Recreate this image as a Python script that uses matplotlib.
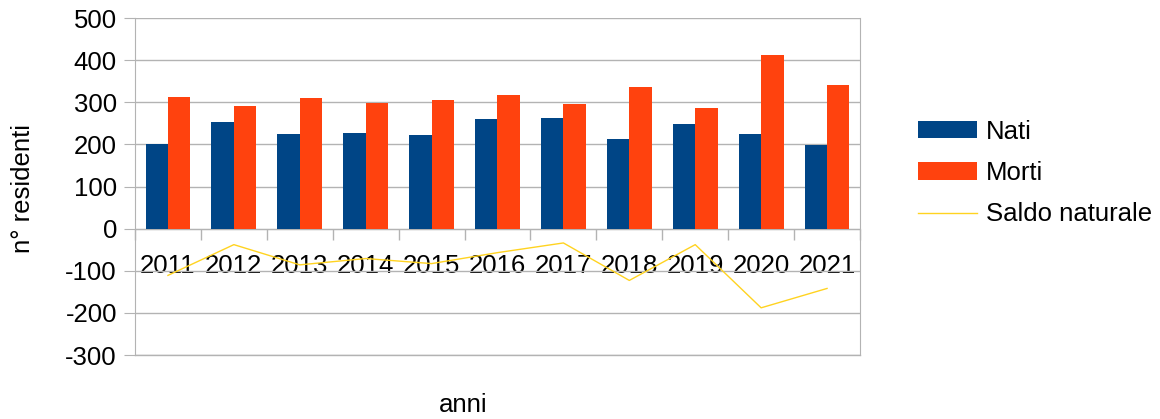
import matplotlib.pyplot as plt
import numpy as np

plt.rcParams['font.family'] = ['Liberation Sans', 'DejaVu Sans']

# data
anni = ['2011', '2012', '2013', '2014', '2015', '2016', '2017', '2018', '2019', '2020', '2021']
nati = [201, 253, 224, 227, 222, 260, 262, 213, 248, 224, 199]
morti = [312, 291, 310, 298, 305, 317, 296, 336, 286, 412, 341]
saldo = [-111, -38, -86, -71, -83, -57, -34, -123, -38, -188, -142]
yticks = [-300, -200, -100, 0, 100, 200, 300, 400, 500]

grey = '#b3b3b3'
fs = 18.5

fig = plt.figure(figsize=(11.6, 4.19), dpi=100)
ax = fig.add_axes([135 / 1160, 1 - 355 / 419, (860 - 135) / 1160, (355 - 18) / 419])

x = np.arange(len(anni))
w = 0.34
b1 = ax.bar(x - w / 2, nati, w, color='#004586', label='Nati', zorder=3)
b2 = ax.bar(x + w / 2, morti, w, color='#ff420e', label='Morti', zorder=3)
l1, = ax.plot(x, saldo, color='#ffd320', lw=1, label='Saldo naturale', zorder=4)

ax.set_xlim(-0.5, len(anni) - 0.5)
ax.set_ylim(-300, 500)
ax.set_yticks(yticks)
ax.set_yticklabels([str(v) for v in yticks], fontsize=fs)
ax.grid(axis='y', color=grey, lw=1, zorder=0)
ax.axhline(-300, color=grey, lw=1, clip_on=False, zorder=0)
ax.tick_params(axis='y', length=8, color=grey, pad=5)

# category axis crosses at zero
ax.spines['bottom'].set_position(('data', 0))
ax.spines['top'].set_visible(False)
for s in ['bottom', 'left', 'right']:
    ax.spines[s].set_color(grey)
ax.set_xticks(x)
ax.set_xticklabels(anni, fontsize=fs)
ax.tick_params(axis='x', which='major', length=0, pad=18)
ax.set_xticks(np.arange(len(anni) + 1) - 0.5, minor=True)
ax.tick_params(axis='x', which='minor', length=8, color=grey, width=1)

fig.text(23 / 1160, 1 - 188 / 419, 'n° residenti', rotation=90, fontsize=fs,
         ha='center', va='center')
fig.text(463 / 1160, 1 - 405 / 419, 'anni', fontsize=fs, ha='center', va='center')

fig.legend([b1, b2, l1], ['Nati', 'Morti', 'Saldo naturale'], loc='center left',
           bbox_to_anchor=(895 / 1160, 1 - 173 / 419), frameon=False,
           fontsize=fs, handlelength=2.3, handleheight=0.66, labelspacing=0.68,
           handletextpad=0.35)

fig.savefig('out.png', dpi=100)
